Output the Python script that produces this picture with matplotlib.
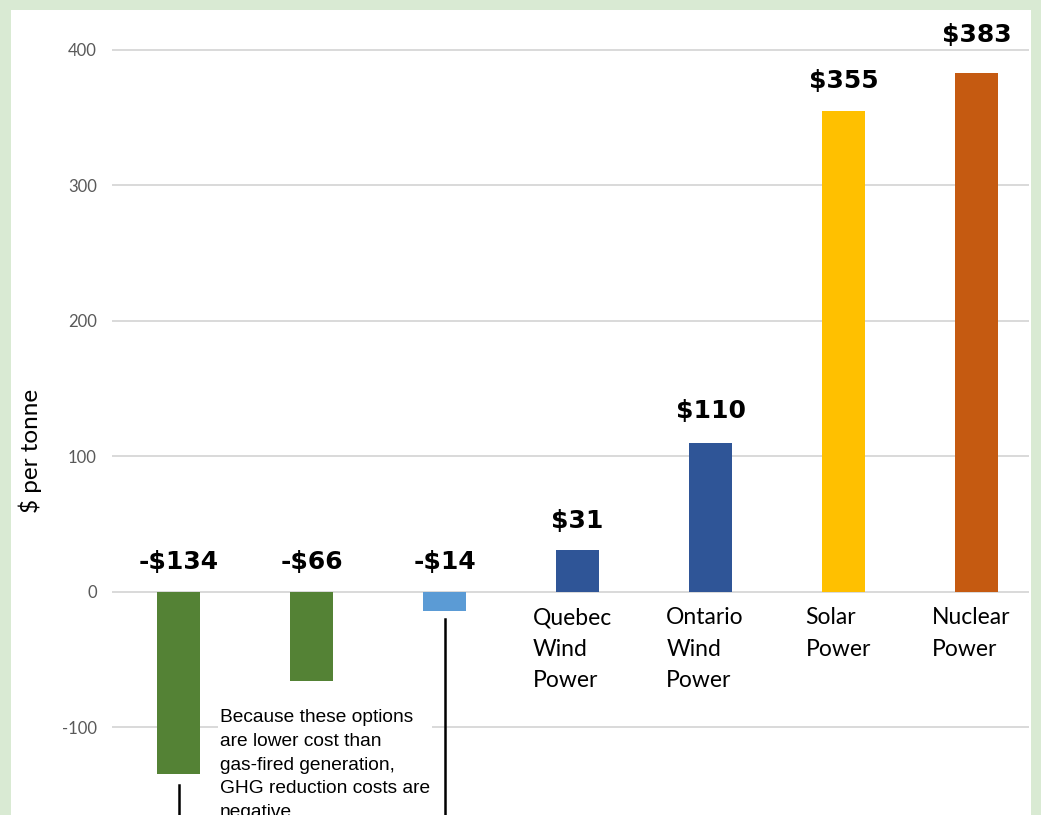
import matplotlib.pyplot as plt
from matplotlib.patches import Rectangle

# ── data ────────────────────────────────────────────────
options = ["Gas Efficiency A", "Gas Efficiency B", "Conservation",
           "Quebec\nWind\nPower", "Ontario\nWind\nPower",
           "Solar\nPower", "Nuclear\nPower"]
cost_per_tonne = [-134, -66, -14, 31, 110, 355, 383]
value_labels = ["-$134", "-$66", "-$14", "$31", "$110", "$355", "$383"]
show_axis_label = [False, False, False, True, True, True, True]
bar_colors = ["#548235", "#548235", "#5b9bd5", "#2f5597",
              "#2f5597", "#ffc000", "#c55a11"]
y_ticks = [-100, 0, 100, 200, 300, 400]

note = ("Because these options\nare lower cost than\n"
        "gas-fired generation,\nGHG reduction costs are\nnegative.")

W, H = 1041, 815
fig = plt.figure(figsize=(W / 100, H / 100), dpi=100)
fig.patch.set_facecolor("#d9ead3")
# white panel inside the green frame
fig.patches.append(Rectangle((11 / W, 0), (1031 - 11) / W, (H - 10) / H,
                             transform=fig.transFigure,
                             facecolor="white", edgecolor="none", zorder=-10))

# axes: left 112px, right 1029px, top 10px, bottom at image edge
ax = fig.add_axes([112 / W, 0, (1029 - 112) / W, (H - 10) / H])
ax.set_facecolor("none")
ax.set_zorder(5)

x = list(range(len(options)))
ax.bar(x, cost_per_tonne, width=0.316, color=bar_colors, zorder=3)

ax.set_xlim(-0.5, -0.5 + 917 / 133)
ax.set_ylim(-164.6, 429.5)
ax.set_yticks(y_ticks)
ax.set_yticklabels([str(v) for v in y_ticks], fontsize=12,
                   color="#595959", family="Lato")
ax.tick_params(axis="y", length=0, pad=11)
ax.set_xticks([])
ax.grid(axis="y", color="#d9d9d9", lw=1.4, zorder=0)
for s in ax.spines.values():
    s.set_visible(False)

fig.text(30 / W, 1 - 451 / H, "$ per tonne", rotation=90, fontsize=17.5,
         family="Lato", ha="center", va="center", color="black")

# value labels above bar tops (negatives sit above zero);
# the tallest label was nudged up a little further
label_pad = [13, 13, 13, 12, 14, 13, 19]
for xi, v, lab, pad in zip(x, cost_per_tonne, value_labels, label_pad):
    base = max(v, 0)
    ax.annotate(lab, (xi, base), xytext=(0, pad), textcoords="offset points",
                ha="center", va="bottom", fontsize=18, fontweight="bold",
                family="DejaVu Sans", color="black")

# category names below zero line
for xi, name, show in zip(x, options, show_axis_label):
    if show:
        ax.annotate(name, (xi - 0.04, 0), xytext=(0, -11),
                    textcoords="offset points", ha="center", va="top",
                    multialignment="left", fontsize=16.5, family="Lato",
                    linespacing=1.62, color="black")

# note and bracket lines
ax.text(0.31, -86.5, note, ha="left", va="top", fontsize=13.8,
        family="Liberation Sans", linespacing=1.52, color="black",
        bbox=dict(facecolor="white", edgecolor="none", pad=1.5), zorder=4)
ax.plot([0, 0], [-142.4, -170], color="black", lw=1.8, zorder=4,
        clip_on=False)
ax.plot([2, 2], [-19.9, -170], color="black", lw=1.8, zorder=4,
        clip_on=False)

plt.savefig("out.png", dpi=100, facecolor=fig.get_facecolor())
